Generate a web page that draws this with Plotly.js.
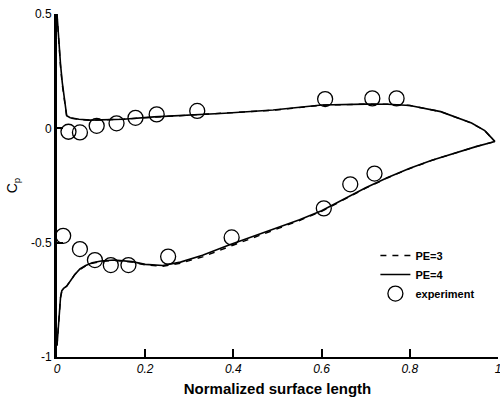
<!DOCTYPE html>
<html>
<head>
<meta charset="utf-8">
<script src="https://cdn.plot.ly/plotly-3.0.1.min.js"></script>
<style>html,body{margin:0;padding:0;background:#fff;}#chart{width:500px;height:402px;}</style>
</head>
<body>
<div id="chart"></div>
<script>
// Upper surface (PE=4)
const upperX4 = [0, 0.004, 0.008, 0.012, 0.017, 0.022, 0.03, 0.05, 0.075, 0.1, 0.15, 0.22, 0.28, 0.38, 0.49, 0.6, 0.7, 0.75, 0.8, 0.87, 0.94, 0.97, 0.986, 0.993];
const upperY4 = [0.5, 0.38, 0.28, 0.2, 0.12, 0.055, 0.046, 0.04, 0.036, 0.037, 0.04, 0.05, 0.055, 0.066, 0.08, 0.102, 0.106, 0.105, 0.1, 0.073, 0.023, -0.01, -0.043, -0.058];
// Lower surface (PE=4)
const lowerX4 = [0, 0.002, 0.005, 0.008, 0.011, 0.015, 0.022, 0.03, 0.04, 0.052, 0.065, 0.08, 0.1, 0.13, 0.17, 0.2, 0.24, 0.28, 0.33, 0.39, 0.45, 0.5, 0.55, 0.6, 0.65, 0.7, 0.75, 0.8, 0.85, 0.9, 0.95, 0.993];
const lowerY4 = [-0.95, -0.9, -0.82, -0.74, -0.71, -0.7, -0.69, -0.665, -0.64, -0.615, -0.6, -0.588, -0.58, -0.576, -0.583, -0.595, -0.6, -0.585, -0.555, -0.51, -0.47, -0.435, -0.4, -0.36, -0.31, -0.26, -0.215, -0.175, -0.14, -0.11, -0.08, -0.058];
// PE=3 (nearly identical)
const upperX3 = [0, 0.004, 0.008, 0.012, 0.017, 0.022, 0.03, 0.05, 0.075, 0.1, 0.15, 0.22, 0.28, 0.38, 0.49, 0.6, 0.7, 0.75, 0.8, 0.87, 0.94, 0.97, 0.986, 0.993];
const upperY3 = [0.5, 0.37, 0.27, 0.19, 0.115, 0.052, 0.045, 0.039, 0.035, 0.036, 0.04, 0.049, 0.055, 0.065, 0.079, 0.101, 0.106, 0.105, 0.1, 0.073, 0.023, -0.01, -0.043, -0.058];
const lowerX3 = [0, 0.002, 0.005, 0.008, 0.011, 0.015, 0.022, 0.03, 0.04, 0.052, 0.065, 0.08, 0.1, 0.13, 0.17, 0.2, 0.24, 0.28, 0.33, 0.39, 0.45, 0.5, 0.55, 0.6, 0.65, 0.7, 0.75, 0.8, 0.85, 0.9, 0.95, 0.993];
const lowerY3 = [-0.95, -0.9, -0.82, -0.74, -0.71, -0.7, -0.69, -0.665, -0.64, -0.617, -0.602, -0.59, -0.582, -0.578, -0.585, -0.597, -0.603, -0.59, -0.562, -0.518, -0.476, -0.44, -0.403, -0.363, -0.312, -0.262, -0.216, -0.176, -0.14, -0.11, -0.08, -0.058];
// Experiment
const expX = [0.026, 0.052, 0.09, 0.135, 0.178, 0.226, 0.318, 0.608, 0.715, 0.77, 0.014, 0.052, 0.086, 0.122, 0.162, 0.252, 0.396, 0.605, 0.665, 0.72];
const expY = [-0.015, -0.018, 0.011, 0.022, 0.046, 0.061, 0.076, 0.128, 0.131, 0.131, -0.47, -0.528, -0.576, -0.598, -0.598, -0.561, -0.477, -0.35, -0.245, -0.198];

const xTicks = [0, 0.2, 0.4, 0.6, 0.8, 1];
const xTickText = ['0', '0.2', '0.4', '0.6', '0.8', '1'];
const yTicks = [-1, -0.5, 0, 0.5];
const yTickText = ['-1', '-0.5', '0', '0.5'];

const pe3 = {
  x: upperX3.concat([null], lowerX3), y: upperY3.concat([null], lowerY3),
  mode: 'lines', name: 'PE=3', connectgaps: false,
  line: {color: '#000', width: 1.4, dash: '6px,6px'}
};
const pe4 = {
  x: upperX4.concat([null], lowerX4), y: upperY4.concat([null], lowerY4),
  mode: 'lines', name: 'PE=4', connectgaps: false,
  line: {color: '#000', width: 1.6}
};
const exp = {
  x: expX, y: expY, mode: 'markers', name: 'experiment', cliponaxis: false,
  marker: {symbol: 'circle-open', size: 15, color: '#000', line: {width: 1.3, color: '#000'}}
};

const layout = {
  width: 500, height: 402,
  margin: {l: 57, r: 2, t: 14, b: 45},
  paper_bgcolor: '#fff', plot_bgcolor: '#fff',
  font: {family: 'Liberation Sans, Arial, sans-serif', color: '#000', size: 12},
  showlegend: true,
  legend: {
    x: 0.722, y: 0.338, xanchor: 'left', yanchor: 'top',
    bgcolor: 'rgba(0,0,0,0)', borderwidth: 0,
    font: {size: 11, weight: 'bold', family: 'Liberation Sans, Arial, sans-serif'}
  },
  xaxis: {
    range: [0, 1], showgrid: false, zeroline: false,
    showline: true, linecolor: '#000', linewidth: 2,
    ticks: 'inside', ticklen: 8, tickwidth: 2, tickcolor: '#000',
    tickvals: xTicks, ticktext: xTickText, ticklabeloverflow: 'allow',
    tickfont: {size: 12, style: 'italic'},
    title: {text: 'Normalized surface length', font: {size: 15, weight: 'bold'}, standoff: 8}
  },
  yaxis: {
    range: [-1, 0.5], showgrid: false, zeroline: false,
    showline: true, linecolor: '#000', linewidth: 3,
    ticks: 'inside', ticklen: 6, tickwidth: 2, tickcolor: '#000',
    tickvals: yTicks, ticktext: yTickText, ticklabeloverflow: 'allow',
    tickfont: {size: 12},
    title: {text: 'C<sub>p</sub>', font: {size: 14}}
  }
};

Plotly.newPlot('chart', [pe3, pe4, exp], layout, {displayModeBar: false, staticPlot: true});
</script>
</body>
</html>
